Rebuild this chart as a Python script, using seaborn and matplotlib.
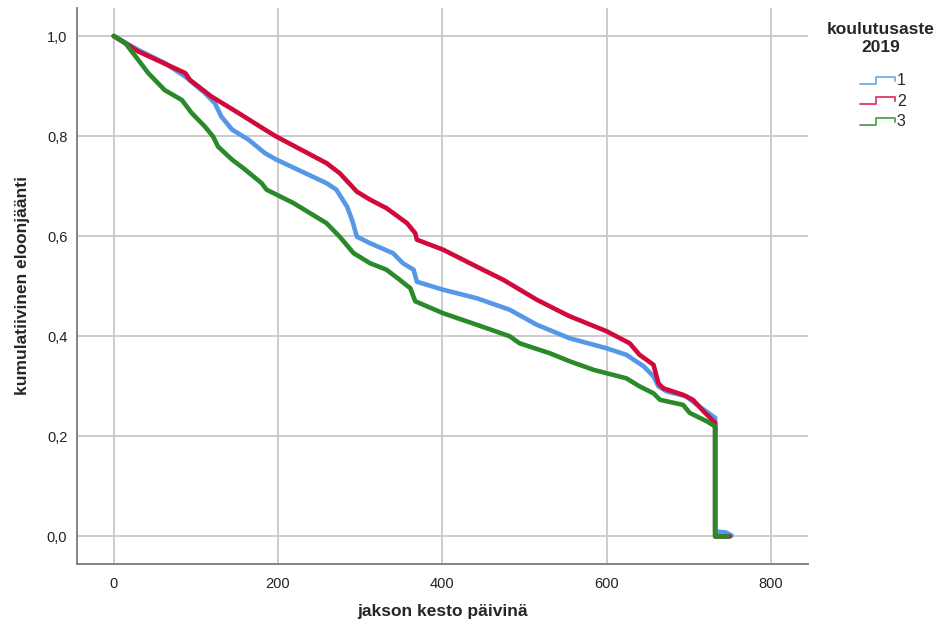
import pandas as pd
import matplotlib.pyplot as plt
import seaborn as sns
from matplotlib.lines import Line2D
from matplotlib.legend_handler import HandlerBase

# survival curves (days, cumulative survival)
t1 = [0, 30, 62, 87, 111, 123, 131, 144, 164, 184, 198, 259, 271, 284, 290, 296, 312, 340, 352, 365,
      369, 401, 442, 482, 515, 555, 600, 624, 645, 657, 663, 673, 697, 710, 732, 732, 745, 752]
s1 = [1.0, 0.972, 0.946, 0.919, 0.886, 0.866, 0.839, 0.813, 0.793, 0.766, 0.753, 0.706, 0.693, 0.659,
      0.633, 0.599, 0.586, 0.566, 0.546, 0.533, 0.509, 0.493, 0.476, 0.453, 0.423, 0.396, 0.376, 0.363,
      0.340, 0.320, 0.300, 0.290, 0.280, 0.263, 0.237, 0.010, 0.008, 0.002]
t2 = [0, 30, 87, 93, 119, 152, 184, 198, 259, 275, 296, 312, 332, 357, 367, 369, 401, 442, 474, 515,
      539, 555, 600, 628, 640, 657, 663, 669, 693, 705, 718, 732, 732, 750]
s2 = [1.0, 0.969, 0.926, 0.912, 0.879, 0.846, 0.813, 0.799, 0.746, 0.726, 0.689, 0.673, 0.656, 0.626,
      0.606, 0.593, 0.573, 0.539, 0.513, 0.473, 0.453, 0.440, 0.410, 0.386, 0.363, 0.343, 0.306, 0.296,
      0.283, 0.273, 0.250, 0.227, 0.0, 0.0]
t3 = [0, 14, 30, 42, 62, 83, 95, 111, 121, 127, 144, 160, 180, 186, 219, 259, 275, 292, 312, 332, 348,
      361, 367, 401, 442, 482, 494, 531, 555, 584, 624, 640, 657, 665, 693, 701, 722, 732, 732, 748]
s3 = [1.0, 0.986, 0.952, 0.926, 0.892, 0.872, 0.846, 0.819, 0.799, 0.779, 0.753, 0.733, 0.706, 0.693,
      0.666, 0.626, 0.599, 0.566, 0.546, 0.533, 0.513, 0.496, 0.470, 0.446, 0.423, 0.400, 0.386, 0.366,
      0.350, 0.333, 0.316, 0.300, 0.286, 0.273, 0.263, 0.247, 0.230, 0.220, 0.0, 0.0]

groups = ['1', '2', '3']
colors = ['#5599E6', '#D20A3C', '#2A8A2A']

df = pd.concat([
    pd.DataFrame({'aika': t, 'elo': s, 'ryhma': g})
    for t, s, g in zip([t1, t2, t3], [s1, s2, s3], groups)
], ignore_index=True)

sns.set_style('white')
plt.rcParams['font.family'] = ['Liberation Sans', 'DejaVu Sans']

fig = plt.figure(figsize=(9.48, 6.28), dpi=100)
ax = fig.add_axes([0.0812, 0.1019, 0.7711, 0.8854])

sns.lineplot(data=df, x='aika', y='elo', hue='ryhma', palette=dict(zip(groups, colors)),
             estimator=None, sort=False, linewidth=3.3, legend=False, ax=ax)

ax.set_xlim(-44.7, 845)
ax.set_ylim(-0.055, 1.056)
ax.set_xticks([0, 200, 400, 600, 800])
ax.set_yticks([0, 0.2, 0.4, 0.6, 0.8, 1.0])
ax.set_yticklabels(['0,0', '0,2', '0,4', '0,6', '0,8', '1,0'])
ax.grid(True, color='#c8c8c8', linewidth=1.3)
ax.set_axisbelow(True)
for side in ['top', 'right']:
    ax.spines[side].set_visible(False)
for side in ['left', 'bottom']:
    ax.spines[side].set_color('#7a7a7a')
    ax.spines[side].set_linewidth(1.3)
ax.tick_params(axis='both', length=0, labelsize=10.5, colors='#222222')
ax.tick_params(axis='x', pad=9)
ax.tick_params(axis='y', pad=7)
ax.set_xlabel('jakson kesto päivinä', fontsize=12.5, fontweight='bold', labelpad=10)
ax.set_ylabel('kumulatiivinen eloonjäänti', fontsize=12.5, fontweight='bold', labelpad=12)


class StepHandler(HandlerBase):
    def create_artists(self, legend, orig_handle, xdescent, ydescent, width, height, fontsize, trans):
        x0, x1 = -xdescent, -xdescent + width
        y0, y1 = -ydescent + 0.1 * height, -ydescent + 0.75 * height
        xm = x0 + 0.45 * width
        line = Line2D([x0, xm, xm, x1, x1], [y0, y0, y1, y1, y1 - 0.35 * height],
                      color=orig_handle.get_color(), linewidth=1.4, alpha=0.75)
        line.set_transform(trans)
        return [line]


# legend title as separate centred text, entries below it
fig.text(881 / 948, 1 - 22 / 628, 'koulutusaste\n2019', ha='center', va='top', ma='center',
         fontsize=12.5, fontweight='bold', linespacing=1.25)
handles = [Line2D([], [], color=c) for c in colors]
fig.legend(handles, groups, loc='upper center', bbox_to_anchor=(883 / 948, 1 - 73 / 628),
           frameon=False, fontsize=11.5, borderaxespad=0, borderpad=0,
           handler_map={Line2D: StepHandler()}, handlelength=2.2, handletextpad=0.1,
           labelspacing=0.35)

fig.savefig('out.png', dpi=100)
